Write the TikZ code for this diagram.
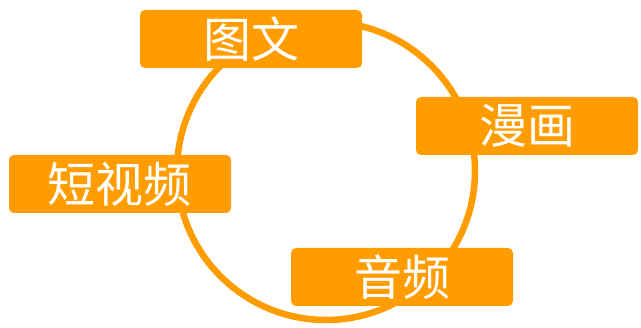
\documentclass[tikz,border=0pt]{standalone}
\usepackage{fontspec}
\newfontfamily\cjk{Noto Sans CJK SC}
\definecolor{boxorange}{HTML}{FF9C00}
\tikzset{
  item/.style={fill=boxorange, draw=none, rounded corners=5pt, minimum width=222pt, minimum height=58pt,
    inner sep=0pt, text=white, font=\cjk\fontsize{48}{48}\selectfont},
  ring/.style={draw=boxorange, line width=6.5pt}
}
\begin{document}
\begin{tikzpicture}[x=1pt,y=-1pt]
\useasboundingbox (0,0) rectangle (641,328);
\coordinate (c) at (326,171);
\draw[ring] (c) circle[radius=149];
\node[item] (tuwen) at (251,39) {图文};
\node[item] (manhua) at (527,126) {漫画};
\node[item] (duanshipin) at (120,184) {短视频};
\node[item] (yinpin) at (402,277) {音频};
\end{tikzpicture}
\end{document}
